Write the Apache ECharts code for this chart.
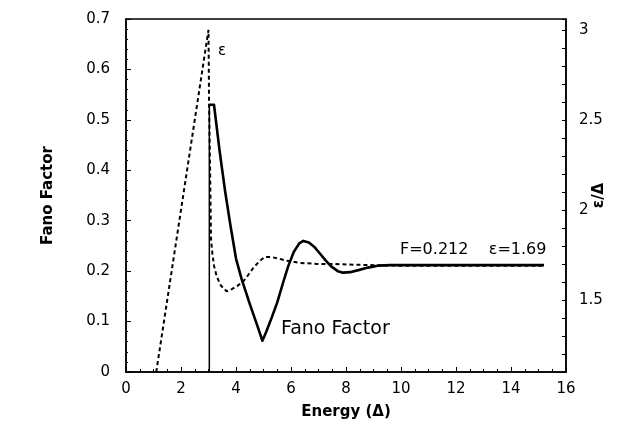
<!DOCTYPE html>
<html>
<head>
<meta charset="utf-8">
<script src="https://cdn.jsdelivr.net/npm/echarts@6/dist/echarts.min.js"></script>
<style>html,body{margin:0;padding:0;background:#fff}#c{width:637px;height:437px}</style>
</head>
<body>
<div id="c"></div>
<script>
// Fano factor (left axis)
var fanoX = [3.03, 3.2, 3.4, 3.6, 3.8, 4.0, 4.2, 4.5, 4.8, 4.96, 5.1, 5.3, 5.5, 5.7, 5.9, 6.1, 6.3, 6.45, 6.65, 6.85, 7.05, 7.25, 7.45, 7.7, 7.9, 8.15, 8.45, 8.8, 9.2, 9.6, 15.2];
var fanoY = [0.53, 0.53, 0.44, 0.36, 0.29, 0.225, 0.185, 0.135, 0.088, 0.062, 0.08, 0.108, 0.138, 0.175, 0.21, 0.238, 0.255, 0.26, 0.257, 0.248, 0.235, 0.222, 0.21, 0.2, 0.197, 0.198, 0.202, 0.207, 0.211, 0.212, 0.212];
// epsilon / Delta (right axis)
var epsX = [1.1, 3.0, 3.02, 3.06, 3.09, 3.14, 3.2, 3.3, 3.45, 3.66, 3.85, 4.05, 4.27, 4.45, 4.63, 4.85, 5.05, 5.3, 5.55, 5.84, 6.33, 6.93, 7.5, 8.5, 10, 15.2];
var epsY = [1.1, 3.0, 2.6, 2.2, 1.84, 1.76, 1.69, 1.63, 1.58, 1.548, 1.56, 1.578, 1.604, 1.64, 1.678, 1.715, 1.739, 1.738, 1.73, 1.718, 1.706, 1.70, 1.70, 1.695, 1.69, 1.69];
var xTicks = [0, 2, 4, 6, 8, 10, 12, 14, 16];
var leftTicks = [0, 0.1, 0.2, 0.3, 0.4, 0.5, 0.6, 0.7];
var rightTicks = [1.5, 2, 2.5, 3];
var labels = { xName: 'Energy (Δ)', leftName: 'Fano Factor', rightName: 'ε/Δ', eps: 'ε', final: 'F=0.212    ε=1.69', fano: 'Fano Factor' };

var font = 'DejaVu Sans';
function zip(a, b) { return a.map(function (v, i) { return [v, b[i]]; }); }

var chart = echarts.init(document.getElementById('c'), null, { renderer: 'canvas' });
var axisBase = {
  axisLine: { show: true, lineStyle: { color: '#000', width: 1.5 } },
  splitLine: { show: false },
  axisLabel: { color: '#000', fontFamily: font, fontSize: 15 },
  nameMoveOverlap: false,
  nameTextStyle: { color: '#000', fontFamily: font, fontSize: 15, fontWeight: 'bold' }
};
chart.setOption({
  animation: false,
  backgroundColor: '#fff',
  grid: { left: 126, right: 71, top: 19, bottom: 65, show: true, borderColor: '#000', borderWidth: 1.5 },
  xAxis: Object.assign({}, axisBase, {
    type: 'value', min: xTicks[0], max: xTicks[xTicks.length - 1], interval: 2,
    name: labels.xName, nameLocation: 'middle', nameGap: 33,
    axisTick: { inside: true, length: 5, lineStyle: { color: '#000' } },
    minorTick: { show: true, splitNumber: 4, length: 3, lineStyle: { color: '#000' } },
    axisLabel: { color: '#000', fontFamily: font, fontSize: 15, margin: 10 }
  }),
  yAxis: [
    Object.assign({}, axisBase, {
      type: 'value', min: leftTicks[0], max: leftTicks[leftTicks.length - 1], interval: 0.1,
      name: labels.leftName, nameLocation: 'middle', nameGap: 70, nameRotate: 90,
      axisTick: { inside: true, length: 5, lineStyle: { color: '#000' } },
      minorTick: { show: true, splitNumber: 5, length: 2, lineStyle: { color: '#000' } },
      axisLabel: { color: '#000', fontFamily: font, fontSize: 15, margin: 16 }
    }),
    Object.assign({}, axisBase, {
      type: 'value', position: 'right', min: 1.1, max: 3.06, interval: 0.1,
      name: labels.rightName, nameLocation: 'middle', nameGap: 26, nameRotate: 90,
      axisTick: { inside: true, length: 4, lineStyle: { color: '#000' } },
      axisLabel: {
        color: '#000', fontFamily: font, fontSize: 15, margin: 13,
        formatter: function (v) {
          for (var i = 0; i < rightTicks.length; i++) if (Math.abs(v - rightTicks[i]) < 1e-6) return String(rightTicks[i]);
          return '';
        }
      }
    })
  ],
  series: [
    {
      type: 'line', yAxisIndex: 0, symbol: 'none', silent: true,
      data: [[fanoX[0], 0], [fanoX[0], fanoY[0]]],
      lineStyle: { color: '#000', width: 1.5 }
    },
    {
      type: 'line', yAxisIndex: 0, symbol: 'none', silent: true,
      data: zip(fanoX, fanoY),
      lineStyle: { color: '#000', width: 2.6, join: 'round' }
    },
    {
      type: 'line', yAxisIndex: 1, symbol: 'none', silent: true,
      data: zip(epsX, epsY),
      lineStyle: { color: '#000', width: 2, type: [4, 3] }
    }
  ],
  graphic: [
    { type: 'text', left: 218, top: 44, style: { text: labels.eps, font: '15px "DejaVu Sans"', fill: '#000' } },
    { type: 'text', left: 400, top: 242, style: { text: labels.final, font: '16px "DejaVu Sans"', fill: '#000' } },
    { type: 'text', left: 281, top: 320, style: { text: labels.fano, font: '19px "DejaVu Sans"', fill: '#000' } }
  ]
});
</script>
</body>
</html>
